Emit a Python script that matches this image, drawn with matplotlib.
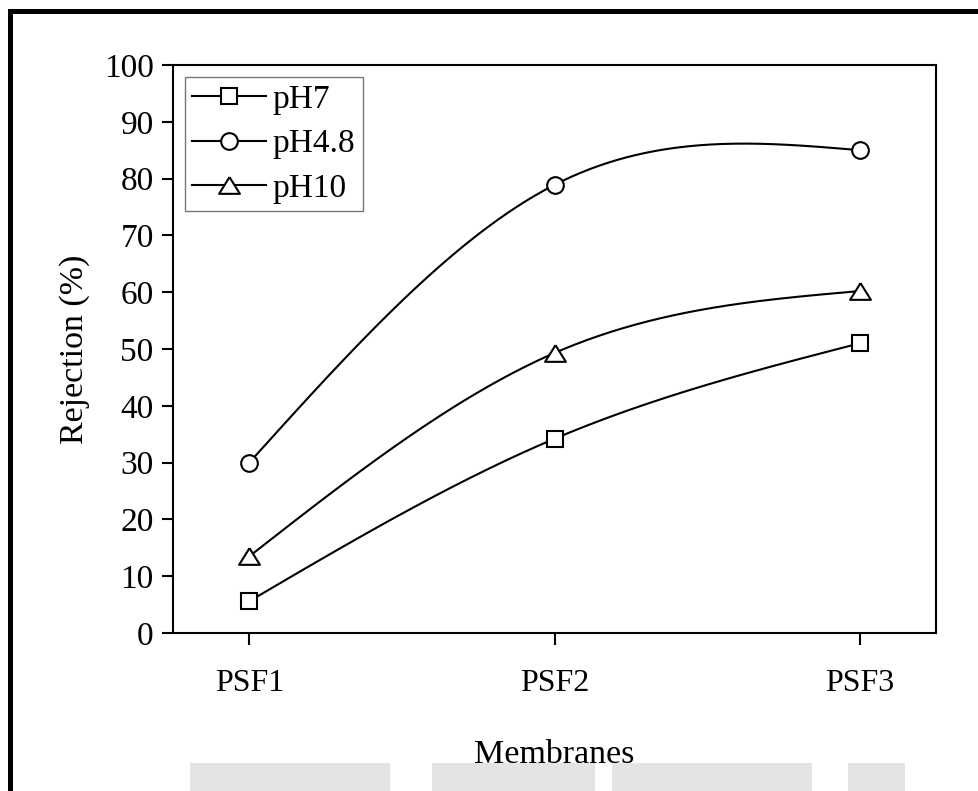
import numpy as np
import matplotlib
matplotlib.use("Agg")
import matplotlib.pyplot as plt
from matplotlib.patches import Rectangle
from matplotlib.lines import Line2D

membranes = ["PSF1", "PSF2", "PSF3"]
rej_ph7 = [5.6, 34.2, 51.0]
rej_ph48 = [30.0, 78.9, 85.0]
rej_ph10 = [13.5, 49.3, 60.2]
series_labels = ["pH7", "pH4.8", "pH10"]

# open triangle a little wider than it is tall
tri = [(0, 0.8), (-1, -0.8), (1, -0.8), (0, 0.8)]
series_markers = ["s", "o", tri]
series_msize = [11.3, 12, 15]


def natural_spline(x, y, n=200):
    """Natural cubic spline through the points (x, y)."""
    x = np.asarray(x, float)
    y = np.asarray(y, float)
    k = len(x)
    h = np.diff(x)
    A = np.zeros((k, k))
    r = np.zeros(k)
    A[0, 0] = 1.0
    A[-1, -1] = 1.0
    for i in range(1, k - 1):
        A[i, i - 1] = h[i - 1]
        A[i, i] = 2 * (h[i - 1] + h[i])
        A[i, i + 1] = h[i]
        r[i] = 6 * ((y[i + 1] - y[i]) / h[i] - (y[i] - y[i - 1]) / h[i - 1])
    M = np.linalg.solve(A, r)
    xs = np.linspace(x[0], x[-1], n)
    ys = np.empty_like(xs)
    for j, xv in enumerate(xs):
        i = min(np.searchsorted(x, xv, side="right") - 1, k - 2)
        t0 = x[i + 1] - xv
        t1 = xv - x[i]
        hi = h[i]
        ys[j] = (M[i] * t0**3 / (6 * hi) + M[i + 1] * t1**3 / (6 * hi)
                 + (y[i] / hi - M[i] * hi / 6) * t0
                 + (y[i + 1] / hi - M[i + 1] * hi / 6) * t1)
    return xs, ys


plt.rcParams["font.family"] = ["Liberation Serif", "DejaVu Serif"]

fig = plt.figure(figsize=(9.79, 7.91), dpi=100)
ax = fig.add_axes([173 / 979, 1 - 633 / 791, (936 - 173) / 979, (633 - 65) / 791])

xpos = np.arange(len(membranes))
handles = []
for vals, lab, mk, ms in zip([rej_ph7, rej_ph48, rej_ph10], series_labels,
                             series_markers, series_msize):
    xs, ys = natural_spline(xpos, vals)
    ax.plot(xs, ys, color="black", lw=1.5, zorder=2)
    ax.plot(xpos, vals, linestyle="none", marker=mk, markersize=ms,
            markerfacecolor="white", markeredgecolor="black",
            markeredgewidth=1.5, zorder=3)
    handles.append(Line2D([], [], color="black", lw=1.5, marker=mk, markersize=ms,
                          markerfacecolor="white", markeredgecolor="black",
                          markeredgewidth=1.5, label=lab))

ax.set_xlim(-0.25, 2.25)
ax.set_ylim(0, 100)
ax.set_xticks(xpos)
ax.set_xticklabels(membranes)
ax.set_yticks(np.arange(0, 101, 10))
ax.tick_params(axis="both", direction="out", width=1.5, colors="black")
ax.tick_params(axis="x", length=8.6, pad=17, labelsize=23)
ax.tick_params(axis="y", length=7.9, pad=6, labelsize=24)
for sp in ax.spines.values():
    sp.set_linewidth(1.5)

ax.set_xlabel("Membranes", fontsize=24.5, labelpad=30)
ax.set_ylabel("Rejection (%)", fontsize=24.5, labelpad=10)

leg = ax.legend(handles=handles, loc="upper left", fontsize=24,
                bbox_to_anchor=(12 / 763, 1 - 12 / 568), frameon=True,
                fancybox=False, handlelength=2.2, handletextpad=0.21,
                borderpad=0.22, labelspacing=0.42, borderaxespad=0.0)
leg.get_frame().set_edgecolor("#555555")
leg.get_frame().set_linewidth(1.0)

# outer frame lines along the top and left edges
fig.add_artist(Rectangle((8 / 979, 0), 5 / 979, 1 - 9 / 791,
                         transform=fig.transFigure, color="black", lw=0))
fig.add_artist(Rectangle((8 / 979, 1 - 14 / 791), 1 - 8 / 979, 5 / 791,
                         transform=fig.transFigure, color="black", lw=0))

# pale grey bands along the bottom edge
for x0, x1 in [(190, 390), (432, 595), (612, 812), (848, 905)]:
    fig.add_artist(Rectangle((x0 / 979, 0), (x1 - x0) / 979, 28 / 791,
                             transform=fig.transFigure, color="#e4e4e4",
                             lw=0, zorder=-1))

fig.savefig("out.png", dpi=100)
